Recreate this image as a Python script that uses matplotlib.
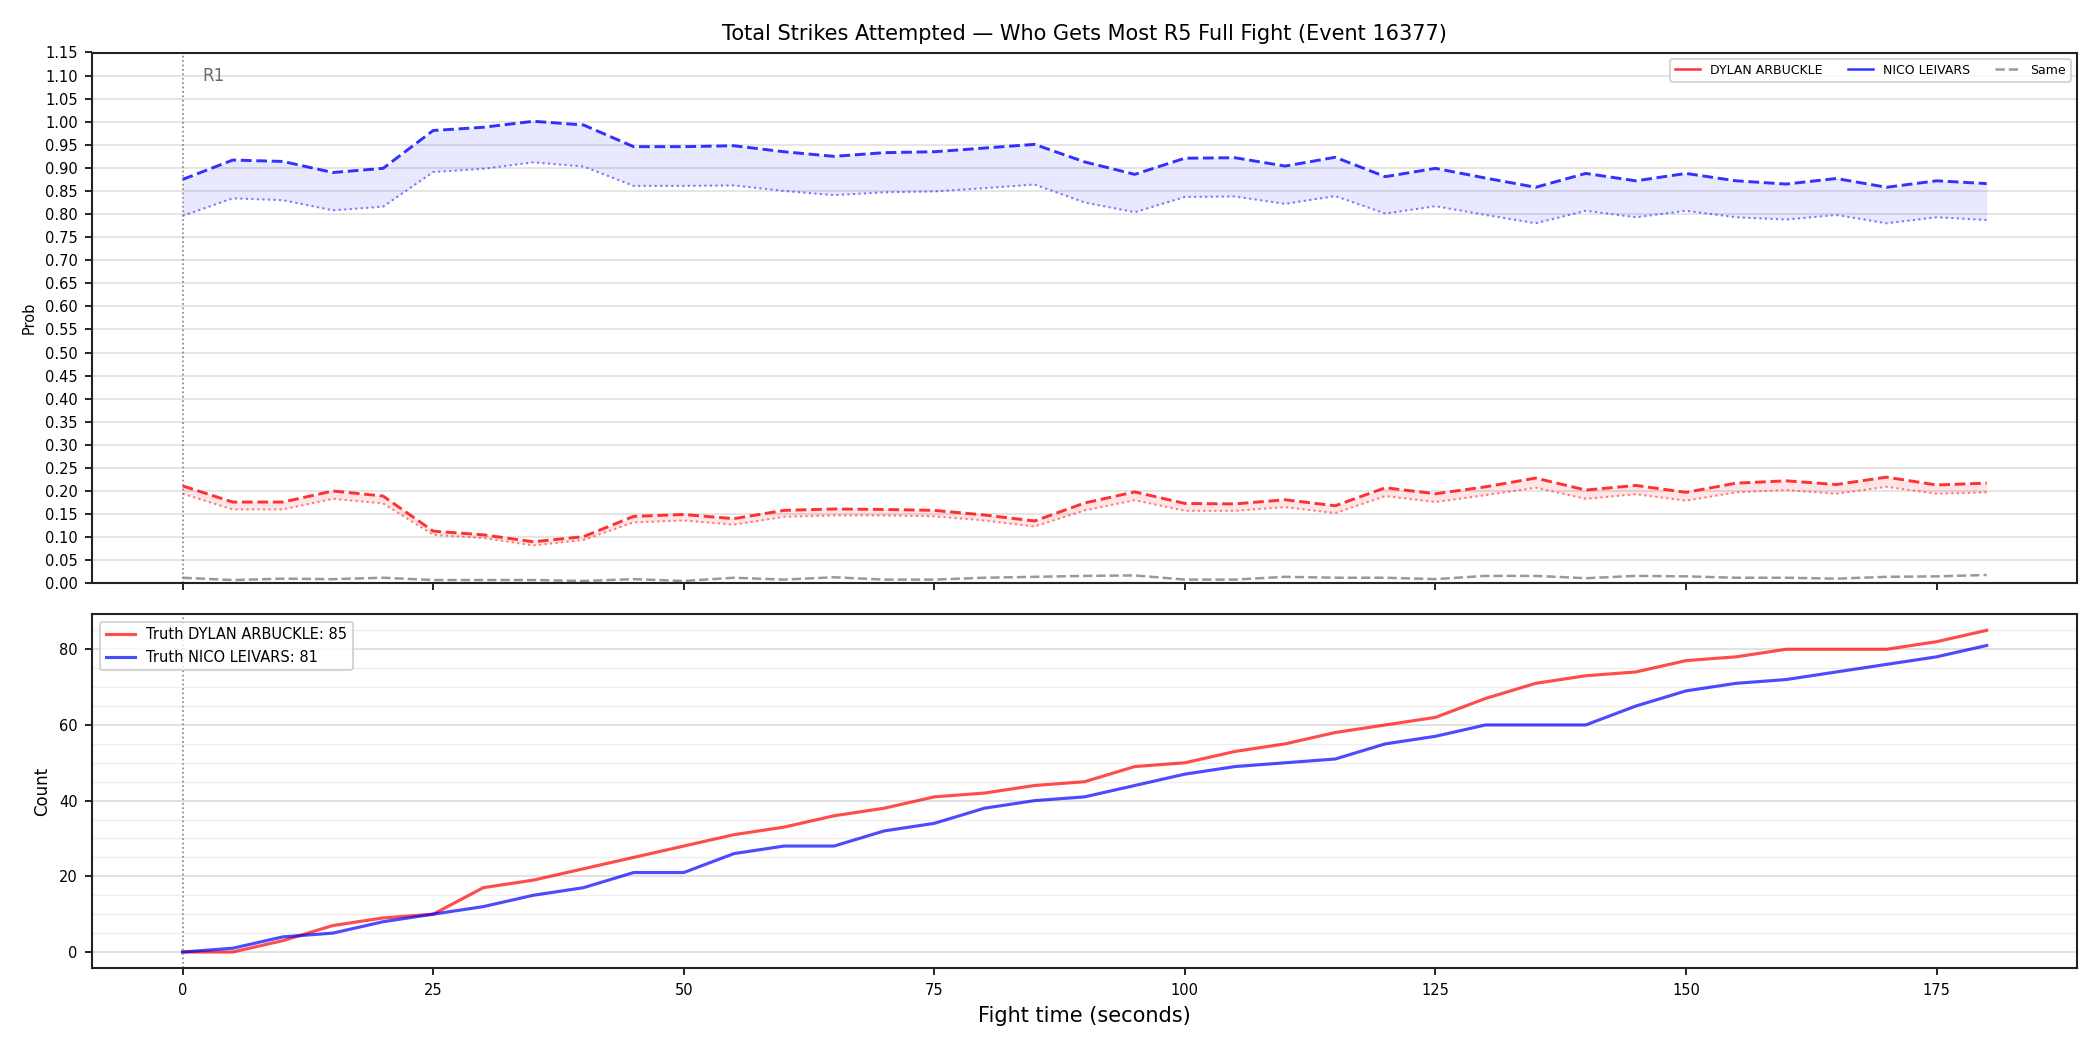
import numpy as np
import matplotlib
matplotlib.use('Agg')
import matplotlib.pyplot as plt
from matplotlib.ticker import MultipleLocator

# fight time in seconds, sampled every 5 s
t = list(range(0, 181, 5))

# upper (dashed) and lower (dotted) probability bounds
red_hi = [0.211, 0.176, 0.176, 0.200, 0.189, 0.113, 0.105, 0.090, 0.101, 0.145, 0.149,
          0.140, 0.158, 0.161, 0.160, 0.158, 0.148, 0.135, 0.174, 0.198, 0.173, 0.172,
          0.181, 0.168, 0.207, 0.194, 0.209, 0.228, 0.202, 0.212, 0.197, 0.217, 0.222,
          0.214, 0.230, 0.213, 0.217]
red_lo = [0.194, 0.160, 0.160, 0.183, 0.173, 0.105, 0.098, 0.082, 0.094, 0.132, 0.136,
          0.127, 0.144, 0.147, 0.147, 0.145, 0.136, 0.123, 0.158, 0.180, 0.157, 0.157,
          0.165, 0.152, 0.189, 0.176, 0.191, 0.207, 0.183, 0.193, 0.179, 0.197, 0.202,
          0.194, 0.209, 0.194, 0.197]
blue_hi = [0.875, 0.917, 0.914, 0.890, 0.899, 0.981, 0.988, 1.001, 0.993, 0.946, 0.946,
           0.948, 0.935, 0.925, 0.933, 0.935, 0.943, 0.951, 0.913, 0.886, 0.921, 0.922,
           0.904, 0.923, 0.881, 0.899, 0.878, 0.858, 0.888, 0.872, 0.888, 0.872, 0.865,
           0.877, 0.858, 0.872, 0.866]
blue_lo = [0.796, 0.834, 0.830, 0.808, 0.816, 0.891, 0.898, 0.912, 0.903, 0.861, 0.861,
           0.862, 0.850, 0.841, 0.847, 0.849, 0.856, 0.864, 0.825, 0.804, 0.837, 0.838,
           0.822, 0.839, 0.801, 0.817, 0.798, 0.780, 0.807, 0.793, 0.807, 0.793, 0.788,
           0.798, 0.780, 0.793, 0.787]
same = [0.012, 0.007, 0.010, 0.009, 0.012, 0.007, 0.007, 0.007, 0.005, 0.009, 0.005,
        0.012, 0.008, 0.013, 0.008, 0.008, 0.012, 0.014, 0.016, 0.017, 0.008, 0.008,
        0.014, 0.012, 0.012, 0.009, 0.016, 0.016, 0.011, 0.016, 0.015, 0.012, 0.012,
        0.010, 0.014, 0.015, 0.018]

# cumulative truth counts
red_cnt = [0, 0, 3, 7, 9, 10, 17, 19, 22, 25, 28, 31, 33, 36, 38, 41, 42, 44, 45, 49,
           50, 53, 55, 58, 60, 62, 67, 71, 73, 74, 77, 78, 80, 80, 80, 82, 85]
blue_cnt = [0, 1, 4, 5, 8, 10, 12, 15, 17, 21, 21, 26, 28, 28, 32, 34, 38, 40, 41, 44,
            47, 49, 50, 51, 55, 57, 60, 60, 60, 65, 69, 71, 72, 74, 76, 78, 81]

red_name = 'DYLAN ARBUCKLE'
blue_name = 'NICO LEIVARS'
title = 'Total Strikes Attempted \u2014 Who Gets Most R5 Full Fight (Event 16377)'

RED, BLUE, GRAY = '#ff0000', '#0000ff', '#808080'

fig, (ax1, ax2) = plt.subplots(2, 1, figsize=(14, 7), dpi=150, sharex=True,
                               gridspec_kw={'height_ratios': [3, 2], 'hspace': 0.07})
fig.subplots_adjust(left=0.044, right=0.989, top=0.95, bottom=0.078)

# top: probabilities
ax1.fill_between(t, red_lo, red_hi, color=RED, alpha=0.1, lw=0)
ax1.plot(t, red_hi, '--', color=RED, alpha=0.8, lw=1.4)
ax1.plot(t, red_lo, ':', color=RED, alpha=0.5, lw=1.0)
ax1.fill_between(t, blue_lo, blue_hi, color=BLUE, alpha=0.09, lw=0)
ax1.plot(t, blue_hi, '--', color=BLUE, alpha=0.8, lw=1.4)
ax1.plot(t, blue_lo, ':', color=BLUE, alpha=0.5, lw=1.0)
ax1.plot(t, same, '--', color=GRAY, alpha=0.8, lw=1.2)

ax1.plot([], [], '-', color=RED, alpha=0.8, lw=1.2, label=red_name)
ax1.plot([], [], '-', color=BLUE, alpha=0.8, lw=1.2, label=blue_name)
ax1.plot([], [], '--', color=GRAY, alpha=0.8, lw=1.2, label='Same')
ax1.legend(loc='upper right', ncol=3, fontsize=6, frameon=True)

ax1.axvline(0, color=GRAY, ls=':', lw=0.8)
ax1.text(2, 1.10, 'R1', color='dimgray', fontsize=8, va='center')
ax1.set_ylim(0, 1.15)
ax1.yaxis.set_major_locator(MultipleLocator(0.05))
ax1.yaxis.set_major_formatter(plt.FormatStrFormatter('%.2f'))
ax1.tick_params(axis='y', labelsize=7)
ax1.tick_params(axis='x', labelbottom=False)
ax1.set_ylabel('Prob', fontsize=7)
ax1.grid(axis='y', color='#e0e0e0', lw=0.8)
ax1.set_axisbelow(True)
ax1.set_title(title, fontsize=10)

# bottom: truth counts
ax2.plot(t, red_cnt, '-', color=RED, alpha=0.7, lw=1.5,
         label=f'Truth {red_name}: {red_cnt[-1]}')
ax2.plot(t, blue_cnt, '-', color=BLUE, alpha=0.7, lw=1.5,
         label=f'Truth {blue_name}: {blue_cnt[-1]}')
ax2.axvline(0, color=GRAY, ls=':', lw=0.8)
ax2.legend(loc='upper left', fontsize=7)
ax2.yaxis.set_major_locator(MultipleLocator(20))
ax2.yaxis.set_minor_locator(MultipleLocator(5))
ax2.tick_params(axis='y', which='minor', length=0)
ax2.grid(axis='y', which='major', color='#dddddd', lw=0.8)
ax2.grid(axis='y', which='minor', color='#eeeeee', lw=0.6)
ax2.set_axisbelow(True)
ax2.tick_params(labelsize=7)
ax2.xaxis.set_major_locator(MultipleLocator(25))
ax2.set_ylabel('Count', fontsize=8)
ax2.set_xlabel('Fight time (seconds)', fontsize=10)

for ax in (ax1, ax2):
    for s in ax.spines.values():
        s.set_linewidth(1.0)
        s.set_color('#222222')

fig.savefig('out.png')
